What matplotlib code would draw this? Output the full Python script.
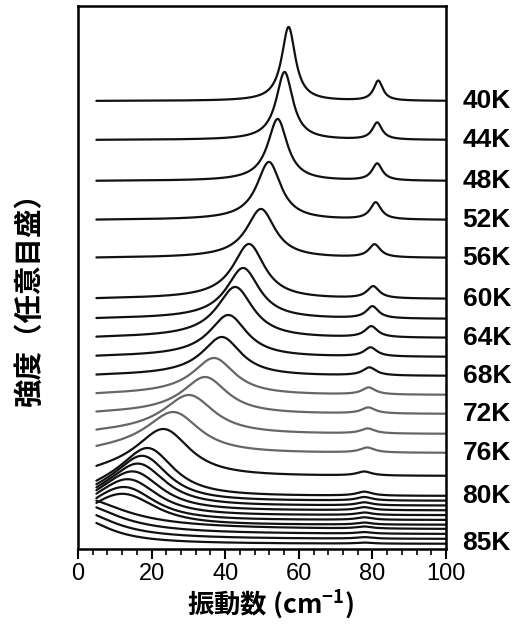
import numpy as np
import matplotlib
matplotlib.use("Agg")
import matplotlib.pyplot as plt
import matplotlib.transforms as mtransforms

plt.rcParams['font.family'] = ['Liberation Sans', 'DejaVu Sans']
plt.rcParams['mathtext.fontset'] = 'custom'
plt.rcParams['mathtext.rm'] = 'Liberation Sans'
plt.rcParams['mathtext.it'] = 'Liberation Sans'
plt.rcParams['mathtext.bf'] = 'Liberation Sans:bold'

# ---- data (arbitrary intensity units) ----
temps      = [40, 44, 48, 52, 56, 60, 62, 64, 66, 68, 70, 72, 74, 76, 78, 80,
              80.5, 81, 81.5, 82, 82.5, 83, 83.5, 84, 84.5, 85]
baselines  = [448, 409, 368, 329, 291, 250, 230, 211, 192, 173, 154, 135, 115, 96, 73, 53,
              48.2, 43.4, 38.6, 33.8, 29, 24.2, 19.4, 14.6, 9.8, 5]
# soft-mode peak position (0 = no peak inside the range, relaxational)
peak_pos   = [57.2, 56.1, 54.2, 51.8, 49.6, 46.3, 44.7, 42.5, 40.6, 38.8, 36.6, 34.1, 29.5, 25.0, 22.2, 17.6,
              16.0, 14.5, 12.5, 10.5, 8.5, 6.5, 0, 0, 0, 0]
peak_width = [4.5, 5.5, 6.5, 8, 9.5, 10.5, 11, 12, 12.5, 13, 14, 15, 17, 18, 18, 18,
              18, 19, 20, 21, 22, 24, 15, 13, 11.5, 10]
peak_height = [74, 68, 62, 58, 49, 55, 51, 51, 42, 39, 37, 37, 39, 41, 47, 48,
               45, 42, 39, 36, 33, 31, 29, 27, 24, 21]
side_pos    = [81.6, 81.3, 81.3, 80.9, 80.6, 80.2, 80.0, 79.7, 79.5, 79.2, 79.0, 78.9, 78.7, 78.6, 77.8, 77.8,
               77.8, 77.8, 77.8, 77.8, 77.8, 77.8, 77.8, 77.8, 77.8, 77.8]
side_height = [20, 17, 17, 17, 13, 12, 12, 11, 9, 8, 7, 6, 5, 5, 4, 4,
               3.5, 3, 3, 2.5, 2.5, 2, 2, 1.5, 1.5, 1]
side_width  = [1.5, 1.6, 1.7, 1.8, 1.9, 2.0, 2.0, 2.1, 2.1, 2.2, 2.2, 2.3, 2.3, 2.4, 2.4, 2.5,
               2.5, 2.5, 2.5, 2.5, 2.5, 2.5, 2.5, 2.5, 2.5, 2.5]
gray_curves = [70, 72, 74, 76]
label_temps = [40, 44, 48, 52, 56, 60, 64, 68, 72, 76, 80, 85]
label_texts = ['40K', '44K', '48K', '52K', '56K', '60K', '64K', '68K', '72K', '76K', '80K', '85K']
xticks = [0, 20, 40, 60, 80, 100]

w = np.linspace(5, 100, 800)

def lineshape(w, wp, g):
    if wp > 0:
        w0sq = wp**2 + g**2 / 2.0
        return np.sqrt(w) * g / ((w0sq - w**2)**2 + (w * g)**2)
    # relaxational (central-peak-like) shape
    return 1.0 / (1.0 + (w / g)**2)

fig = plt.figure(figsize=(5.19, 6.39), dpi=100)
ax = fig.add_axes([78/519, 1-549/639, 368/519, 543/639])

for i, T in enumerate(temps):
    s = lineshape(w, peak_pos[i], peak_width[i])
    s = s / s.max() * peak_height[i]
    side = side_height[i] / (1 + ((w - side_pos[i]) / side_width[i])**2)
    y = baselines[i] + s + side
    col = '#666666' if T in gray_curves else '#111111'
    ax.plot(w, y, color=col, lw=1.6, solid_capstyle='round')

ax.set_xlim(0, 100)
ax.set_ylim(0, 543)
ax.set_yticks([])
ax.set_xticks(xticks)
ax.set_xticks(np.arange(0, 101, 4), minor=True)
ax.tick_params(axis='x', which='major', direction='out', length=7, width=1.5,
               labelsize=17, pad=3)
ax.tick_params(axis='x', which='minor', direction='out', length=4, width=1.2)
for sp in ax.spines.values():
    sp.set_linewidth(1.8)

trans = mtransforms.blended_transform_factory(ax.transAxes, ax.transData)
for T, txt in zip(label_temps, label_texts):
    yb = baselines[temps.index(T)]
    if T == 85:
        yb = 6
    ax.text(1.045, yb, txt, transform=trans, ha='left', va='center',
            fontsize=19, fontweight='bold', clip_on=False)

fig.text(270/519, 1-605/639, '振動数 (cm$^{\\mathregular{-1}}$)', ha='center', va='center',
         fontsize=19, fontweight='bold', family=['Noto Sans CJK JP', 'DejaVu Sans'])
fig.text(30/519, 1-292/639, '強度（任意目盛）', ha='center', va='center', rotation=90,
         fontsize=20.5, fontweight='bold', family=['Noto Sans CJK JP', 'DejaVu Sans'])

fig.savefig('out.png', dpi=100)
